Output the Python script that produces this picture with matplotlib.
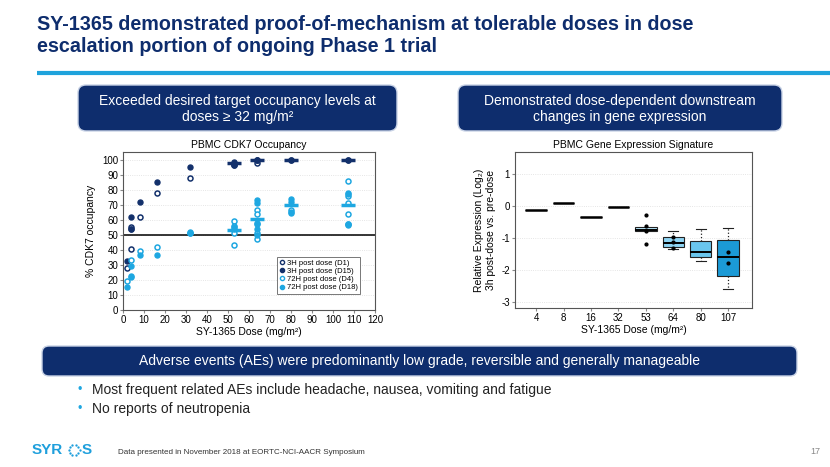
import numpy as np
import matplotlib.pyplot as plt
from matplotlib.patches import FancyBboxPatch
from matplotlib.lines import Line2D

plt.rcParams['font.family'] = ['Liberation Sans', 'DejaVu Sans']
plt.rcParams['axes.unicode_minus'] = False

# ---- data: CDK7 occupancy (dose mg/m2, % occupancy) ----
d1_dose = [2, 4, 4, 8, 16, 32, 53, 53, 64, 64, 80, 107]
d1_occ = [28, 40.5, 55, 62, 78, 87.5, 97, 96.5, 98, 100, 99.5, 100]
d15_dose = [2, 4, 4, 4, 8, 16, 32, 53, 53, 64, 64, 80, 107]
d15_occ = [32.5, 61.5, 54, 53.5, 71.5, 85, 95, 98.5, 96.5, 100, 99.5, 100, 100]
d4_dose = [2, 4, 8, 16, 32, 53, 53, 53, 53, 64, 64, 64, 64, 64, 80, 107, 107, 107, 107, 107]
d4_occ = [19, 33, 39.5, 42, 51, 59, 56, 51, 43.5, 66.5, 63.5, 57, 51, 47, 66.5, 86, 76, 71, 63.5, 57]
d18_dose = [2, 4, 4, 4, 8, 16, 32, 32, 53, 53, 64, 64, 64, 64, 64, 80, 80, 80, 80, 107, 107, 107, 107]
d18_occ = [15.5, 29, 22.5, 22, 36.5, 36.5, 52, 51, 55, 54, 73, 71, 57.5, 54, 50, 73.5, 72, 65, 64.5, 78, 77, 57, 56.5]
med_dose = [53, 64, 80, 107]
med_3h = [97.5, 100, 100, 100]
med_72h = [53, 60.5, 69.5, 70]

# ---- data: gene expression signature (log2, 3h post vs pre) ----
ge_doses = ['4', '8', '16', '32', '53', '64', '80', '107']
ge_med = [-0.12, 0.1, -0.35, -0.03, -0.76, -1.16, -1.45, -1.62]
ge_q1 = [-0.12, 0.1, -0.35, -0.03, -0.79, -1.30, -1.59, -2.20]
ge_q3 = [-0.12, 0.1, -0.35, -0.03, -0.66, -0.97, -1.10, -1.07]
ge_lo = [-0.12, 0.1, -0.35, -0.03, -0.79, -1.35, -1.73, -2.61]
ge_hi = [-0.12, 0.1, -0.35, -0.03, -0.66, -0.79, -0.73, -0.69]
ge_colors = ['white', 'white', 'white', 'white', '#b5e3f7', '#8ed4f3', '#6ac6ee', '#1b9ad6']
ge_pts_x = [4, 4, 4, 4, 5, 5, 5, 7, 7]
ge_pts_y = [-0.3, -0.62, -0.8, -1.2, -0.97, -1.13, -1.33, -1.45, -1.78]

W, H = 830, 467
NAVY = '#0e2d6d'
DARK = '#13306b'
LIGHT = '#1ea7e1'

fig = plt.figure(figsize=(W / 100, H / 100), dpi=100)

bg = fig.add_axes([0, 0, 1, 1])
bg.set_xlim(0, W)
bg.set_ylim(H, 0)
bg.axis('off')


def rect(l, t, r, b):
    return [l / W, 1 - b / H, (r - l) / W, (b - t) / H]


# title
bg.text(37, 30, 'SY-1365 demonstrated proof-of-mechanism at tolerable doses in dose',
        fontsize=14.2, fontweight='bold', color=NAVY, va='baseline')
bg.text(37, 52, 'escalation portion of ongoing Phase 1 trial',
        fontsize=14.2, fontweight='bold', color=NAVY, va='baseline')
bg.plot([37, 830], [73, 73], color='#1fa3dc', lw=3, solid_capstyle='butt')

# header boxes
for (l, r), lines in [((78, 397), ['Exceeded desired target occupancy levels at', 'doses \u2265 32 mg/m\u00b2']),
                      ((458, 782), ['Demonstrated dose-dependent downstream', 'changes in gene expression'])]:
    bg.add_patch(FancyBboxPatch((l + 8, 93), r - l - 16, 30, boxstyle='round,pad=8',
                                fc=NAVY, ec='#c9d3e6', lw=1))
    bg.text((l + r) / 2, 101, lines[0], color='white', fontsize=10, ha='center', va='center')
    bg.text((l + r) / 2, 117, lines[1], color='white', fontsize=10, ha='center', va='center')

# bottom banner
bg.add_patch(FancyBboxPatch((49, 353), 741, 16, boxstyle='round,pad=7',
                            fc=NAVY, ec='#c9d3e6', lw=1))
bg.text(419, 361, 'Adverse events (AEs) were predominantly low grade, reversible and generally manageable',
        color='white', fontsize=10, ha='center', va='center')

# bullets
for y, s in [(390, 'Most frequent related AEs include headache, nausea, vomiting and fatigue'),
             (409, 'No reports of neutropenia')]:
    bg.text(77, y, '\u2022', color=LIGHT, fontsize=9, va='center')
    bg.text(92, y, s, color='#222222', fontsize=10, va='center')

# footer
bg.text(32, 450, 'SYR', color='#1e9fdc', fontsize=11, fontweight='bold', va='center')
bg.text(82, 450, 'S', color='#1e9fdc', fontsize=11, fontweight='bold', va='center')
ang = np.linspace(0, 2 * np.pi, 10, endpoint=False)
bg.scatter(74 + 5.5 * np.cos(ang), 450 + 5 * np.sin(ang), s=2.8, color='#1e9fdc', lw=0)
bg.text(118, 452, 'Data presented in November 2018 at EORTC-NCI-AACR Symposium',
        fontsize=5.8, color='#333333', va='center')
bg.text(815, 452, '17', fontsize=6.5, color='#888888', va='center', ha='center')

# ---- left chart ----
ax = fig.add_axes(rect(123, 152, 375, 310))
ax.set_xlim(0, 120)
ax.set_ylim(0, 105)
ax.set_xticks(np.arange(0, 121, 10))
ax.set_yticks(np.arange(0, 101, 10))
ax.tick_params(labelsize=7, length=2, color='#888888', pad=1.5)
ax.grid(axis='y', color='#dddddd', lw=0.6, ls=':')
for sp in ax.spines.values():
    sp.set_color('#555555')
ax.axhline(50, color='black', lw=1.1)
ms = 3.6
ax.plot(d1_dose, d1_occ, 'o', ms=ms, mfc='white', mec=DARK, mew=1.1, ls='none')
ax.plot(d15_dose, d15_occ, 'o', ms=ms, mfc=DARK, mec=DARK, ls='none')
ax.plot(d4_dose, d4_occ, 'o', ms=ms, mfc='white', mec=LIGHT, mew=1.1, ls='none')
ax.plot(d18_dose, d18_occ, 'o', ms=ms, mfc=LIGHT, mec=LIGHT, ls='none')
ax.plot(med_dose, med_3h, '_', ms=10, mew=2.5, color=DARK, ls='none')
ax.plot(med_dose, med_72h, '_', ms=10, mew=2.5, color=LIGHT, ls='none')
ax.set_title('PBMC CDK7 Occupancy', fontsize=7.5, pad=3)
ax.set_xlabel('SY-1365 Dose (mg/m\u00b2)', fontsize=7.5, labelpad=1.5)
ax.set_ylabel('% CDK7 occupancy', fontsize=7.5, labelpad=4)
handles = [Line2D([], [], marker='o', ls='none', ms=3, mfc='white', mec=DARK, mew=1),
           Line2D([], [], marker='o', ls='none', ms=3, mfc=DARK, mec=DARK),
           Line2D([], [], marker='o', ls='none', ms=3, mfc='white', mec=LIGHT, mew=1),
           Line2D([], [], marker='o', ls='none', ms=3, mfc=LIGHT, mec=LIGHT)]
leg = ax.legend(handles, ['3H post dose (D1)', '3H post dose (D15)',
                          '72H post dose (D4)', '72H post dose (D18)'],
                loc='lower right', bbox_to_anchor=(0.955, 0.08), fontsize=5.5,
                handletextpad=0.2, handlelength=0.8, borderpad=0.3, labelspacing=0.1,
                fancybox=False, edgecolor='#777777', framealpha=1)
leg.get_frame().set_linewidth(0.7)

# ---- right chart ----
bx = fig.add_axes(rect(515, 152, 752, 308))
stats = [dict(med=ge_med[i], q1=ge_q1[i], q3=ge_q3[i], whislo=ge_lo[i], whishi=ge_hi[i],
              fliers=[]) for i in range(len(ge_doses))]
bp = bx.bxp(stats, positions=range(len(ge_doses)), widths=0.78, patch_artist=True,
            boxprops=dict(lw=0.8, edgecolor='#222222'),
            medianprops=dict(color='black', lw=1.4),
            whiskerprops=dict(ls=':', lw=0.9, color='#222222'),
            capprops=dict(lw=0.8, color='#222222'), capwidths=0.35)
for patch, c in zip(bp['boxes'], ge_colors):
    patch.set_facecolor(c)
for i in range(5):
    bp['caps'][2 * i].set_visible(False)
    bp['caps'][2 * i + 1].set_visible(False)
for i in range(4):
    bp['boxes'][i].set_edgecolor('black')
    bp['medians'][i].set_linewidth(1.8)
bx.scatter(ge_pts_x, ge_pts_y, s=4, color='black', zorder=5)
bx.set_xlim(-0.77, 7.87)
bx.set_ylim(-3.2, 1.68)
bx.set_xticks(range(len(ge_doses)))
bx.set_xticklabels(ge_doses)
bx.set_yticks([-3, -2, -1, 0, 1])
bx.tick_params(labelsize=7, length=2, color='#888888', pad=1.5)
bx.grid(axis='y', color='#dddddd', lw=0.6, ls=':')
for sp in bx.spines.values():
    sp.set_color('#555555')
bx.set_title('PBMC Gene Expression Signature', fontsize=7.5, pad=3)
bx.set_xlabel('SY-1365 Dose (mg/m\u00b2)', fontsize=7.5, labelpad=1.5)
bx.set_ylabel('Relative Expression (Log\u2082)\n3h post-dose vs. pre-dose', fontsize=7.5, labelpad=4)

fig.savefig('out.png', dpi=100)
